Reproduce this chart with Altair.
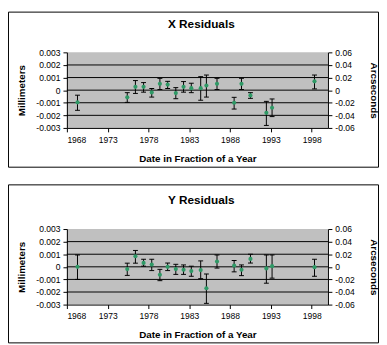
import altair as alt
import pandas as pd

FONT = "Liberation Sans"

years = [1969.3, 1975.4, 1976.4, 1977.4, 1978.4, 1979.4, 1980.35, 1981.35, 1982.3,
         1983.25, 1984.4, 1985.1, 1986.4, 1988.5, 1989.4, 1990.5, 1992.45, 1993.15, 1998.35]

x_val = [-0.00097, -0.00057, 0.00026, 0.00026, -0.00018, 0.0005, 0.00044, -0.00023, 0.00026,
         0.00016, 0.00016, 0.00037, 0.0005, -0.001, 0.0005, -0.00042, -0.0018, -0.0014, 0.0007]
x_lo = [-0.0016, -0.00097, -0.00026, -0.00016, -0.00055, 0.00005, 0.00013, -0.00068, -0.00016,
        -0.0002, -0.0008, -0.00055, 0.00005, -0.0015, 0.00005, -0.00065, -0.0028, -0.0021, 0.0001]
x_hi = [-0.0004, -0.0002, 0.00076, 0.0006, 0.00013, 0.00094, 0.0007, 0.0002, 0.00068,
        0.00055, 0.00107, 0.0012, 0.00094, -0.00057, 0.00094, -0.0002, -0.00089, -0.0007, 0.0012]

y_val = [0.0, -0.00018, 0.00084, 0.00031, 0.00018, -0.00063, 0.0, -0.00018, -0.00023,
         -0.00034, -0.00026, -0.0017, 0.00042, 0.0001, -0.00023, 0.00063, -0.00013, 0.00005, -0.00003]
y_lo = [-0.001, -0.00068, 0.00029, 0.00005, -0.0003, -0.0011, -0.0003, -0.0006, -0.0006,
        -0.00075, -0.00094, -0.0029, -0.0001, -0.0004, -0.0007, 0.0003, -0.0013, -0.0009, -0.00075]
y_hi = [0.00094, 0.00029, 0.0013, 0.0006, 0.0006, -0.0002, 0.0003, 0.0002, 0.00015,
        0.00005, 0.00047, -0.00057, 0.00094, 0.0005, 0.00015, 0.001, 0.00094, 0.00094, 0.0006]

year_ticks = [1968, 1973, 1978, 1983, 1988, 1993, 1998]
mm_ticks = [-0.003, -0.002, -0.001, 0, 0.001, 0.002, 0.003]
arc_ticks = [-0.06, -0.04, -0.02, 0, 0.02, 0.04, 0.06]
grid_mm = [-0.002, -0.001, 0, 0.001, 0.002]


def panel(title, val, lo, hi, by1, by2):
    df = pd.DataFrame({"year": years, "val": val, "lo": lo, "hi": hi})
    xs = alt.Scale(domain=[1968, 2000], nice=False, zero=False)
    xa = alt.Axis(values=year_ticks, format="d", title="Date in Fraction of a Year",
                  labelPadding=3.5, titleX=133, titleY=34, titleBaseline="alphabetic")
    ys = alt.Scale(domain=[-0.003, 0.003], nice=False, zero=False)
    ya = alt.Axis(values=mm_ticks, title="Millimeters", labelPadding=3,
                  labelExpr="datum.value == 0 ? '0' : (datum.value < 0 ? '-' : '') + format(abs(datum.value), '.3f')",
                  titleAngle=270, titleBaseline="middle", titleX=-46, titleY=38.5)
    ra = alt.Axis(values=arc_ticks, title="Arcseconds", orient="right", labelPadding=3,
                  labelExpr="datum.value == 0 ? '0' : (datum.value < 0 ? '-' : '') + format(abs(datum.value), '.2f')",
                  titleAngle=90, titleBaseline="middle", titleX=46, titleY=38.5)
    X = alt.X("year:Q", scale=xs, axis=xa)
    base = alt.Chart(df)
    grid = alt.Chart(pd.DataFrame({"g": grid_mm})).mark_rule(color="black", strokeWidth=1).encode(
        y=alt.Y("g:Q", scale=ys, axis=ya))
    bars = base.mark_rule(color="black", strokeWidth=1).encode(
        x=X, y=alt.Y("lo:Q", scale=ys, axis=ya), y2="hi:Q")
    cap_lo = base.mark_tick(orient="horizontal", size=5, thickness=1, color="black", opacity=1).encode(
        x=X, y=alt.Y("lo:Q", scale=ys, axis=ya))
    cap_hi = base.mark_tick(orient="horizontal", size=5, thickness=1, color="black", opacity=1).encode(
        x=X, y=alt.Y("hi:Q", scale=ys, axis=ya))
    pts = base.mark_circle(size=18, color="#2f9966", opacity=1).encode(
        x=X, y=alt.Y("val:Q", scale=ys, axis=ya))
    left = alt.layer(grid, bars, cap_lo, cap_hi, pts)
    right = base.transform_calculate(arc="datum.val * 20").mark_point(opacity=0).encode(
        x=X, y=alt.Y("arc:Q", scale=alt.Scale(domain=[-0.06, 0.06], nice=False, zero=False), axis=ra))
    one = alt.Chart(pd.DataFrame({"t": [title]}))
    border = one.mark_rect(fill="transparent", stroke="black", strokeWidth=1).encode(
        x=alt.value(-59.5), x2=alt.value(317.5), y=alt.value(by1), y2=alt.value(by2))
    ttl = one.mark_text(font=FONT, fontSize=12, fontWeight="bold", color="black",
                        align="center", baseline="alphabetic").encode(
        text="t:N", x=alt.value(137), y=alt.value(-25))
    return alt.layer(border, ttl, left, right).resolve_scale(y="independent").properties(
        width=266, height=77)


top = panel("X Residuals", x_val, x_lo, x_hi, -41, 117)
bottom = panel("Y Residuals", y_val, y_lo, y_hi, -45, 116)

chart = alt.vconcat(top, bottom, spacing=16).properties(padding=0).configure_view(
    fill="#c0c0c0", strokeWidth=0
).configure_axis(
    domainColor="black", tickColor="black", labelColor="black", titleColor="black",
    labelFont=FONT, titleFont=FONT, labelFontSize=8.7, titleFontSize=10,
    titleFontWeight="bold", grid=False, tickSize=4, domainWidth=1, tickWidth=1
)

chart.save("out.html", embed_options={"renderer": "svg", "actions": False})
